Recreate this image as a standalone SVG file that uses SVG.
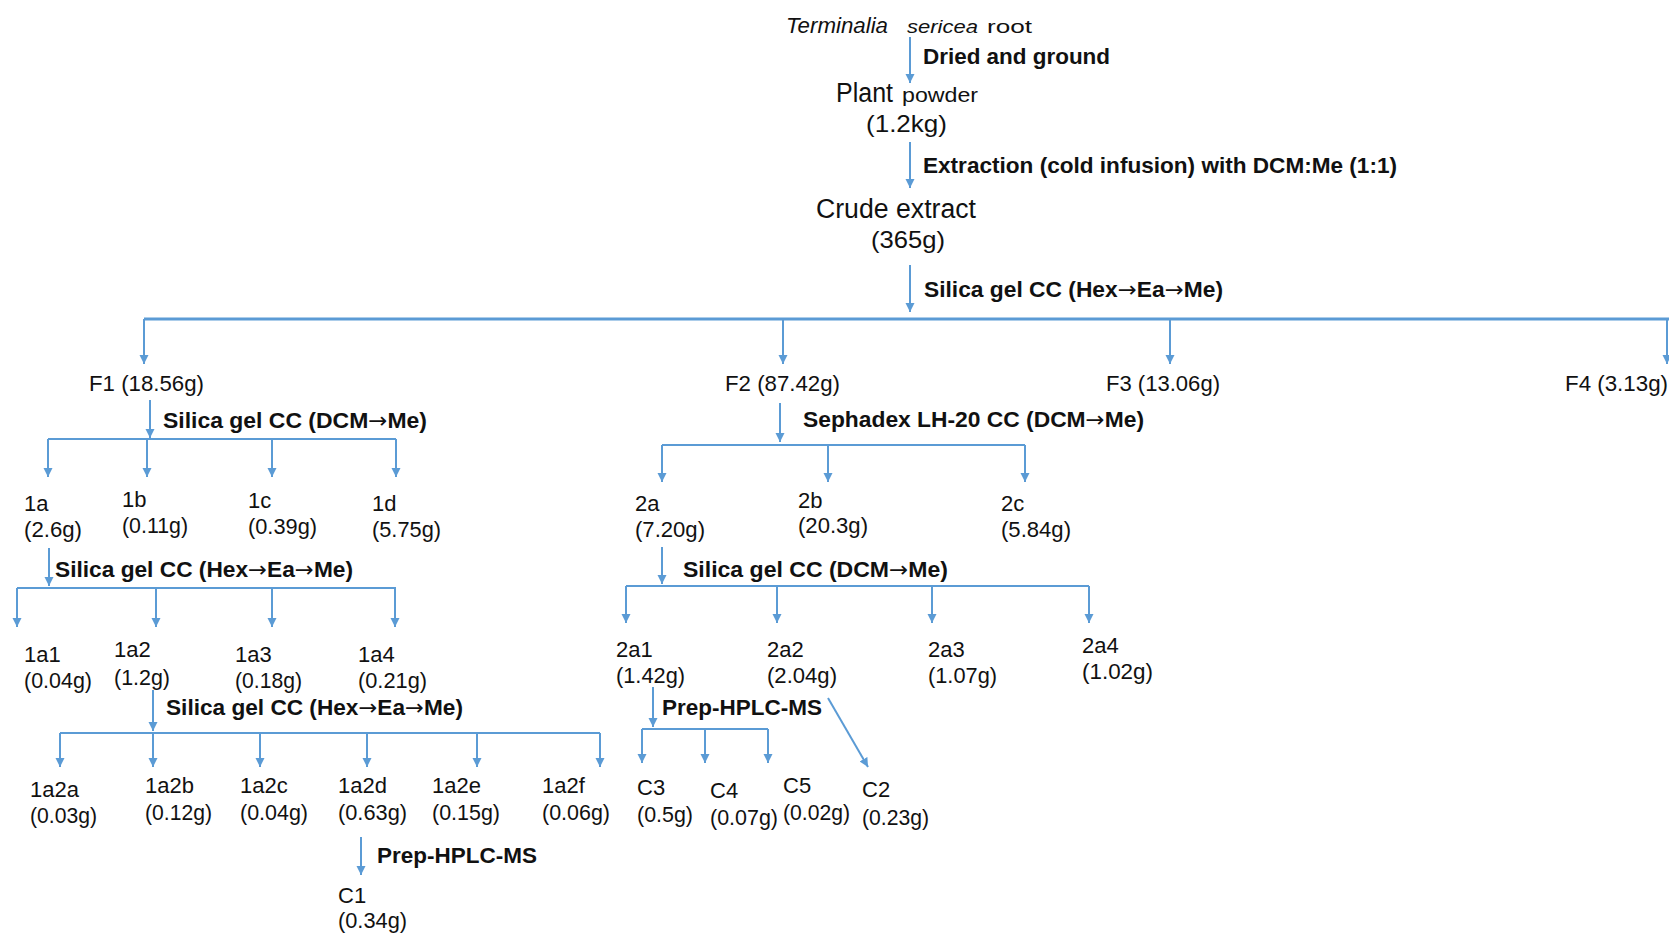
<svg xmlns="http://www.w3.org/2000/svg" width="1669" height="935" viewBox="0 0 1669 935">
<defs>
<marker id="ah" markerUnits="userSpaceOnUse" markerWidth="10" markerHeight="10" refX="9" refY="5" orient="auto">
<path d="M0,0.5 L9,5 L0,9.5 z" fill="#5B9BD5"/>
</marker>
<style>
text{font-family:"Liberation Sans",Arial,sans-serif;fill:#111;}
.n{font-size:22px;}
.b{font-size:22px;font-weight:bold;}
.big{font-size:27px;}
.w{font-size:24px;}
.ar{font-family:"DejaVu Sans",sans-serif;font-weight:normal;}
.c line,.c path{stroke:#5B9BD5;stroke-width:2;fill:none;}
.c .a{marker-end:url(#ah);}
.c .main{stroke-width:3;}
</style>
</defs>
<rect width="1669" height="935" fill="#fff"/>
<g id="connectors" class="c">
<line class="a" x1="910" y1="37" x2="910" y2="83"/>
<line class="a" x1="910" y1="142" x2="910" y2="188"/>
<line class="a" x1="910" y1="265" x2="910" y2="312"/>
<line class="main" x1="144" y1="319" x2="1669" y2="319"/>
<line class="a" x1="144" y1="319" x2="144" y2="364"/>
<line class="a" x1="783" y1="319" x2="783" y2="364"/>
<line class="a" x1="1170" y1="319" x2="1170" y2="364"/>
<line class="a" x1="1667" y1="319" x2="1667" y2="364"/>
<line class="a" x1="150" y1="400" x2="150" y2="438"/>
<line x1="48" y1="439" x2="396" y2="439"/>
<line class="a" x1="48" y1="439" x2="48" y2="477"/>
<line class="a" x1="147" y1="439" x2="147" y2="477"/>
<line class="a" x1="272" y1="439" x2="272" y2="477"/>
<line class="a" x1="396" y1="439" x2="396" y2="477"/>
<line class="a" x1="49" y1="548" x2="49" y2="586"/>
<line x1="17" y1="588" x2="396" y2="588"/>
<line class="a" x1="17" y1="588" x2="17" y2="627"/>
<line class="a" x1="156" y1="588" x2="156" y2="627"/>
<line class="a" x1="272" y1="588" x2="272" y2="627"/>
<line class="a" x1="395" y1="588" x2="395" y2="627"/>
<line class="a" x1="153" y1="690" x2="153" y2="731"/>
<line x1="60" y1="733" x2="600" y2="733"/>
<line class="a" x1="60" y1="733" x2="60" y2="767"/>
<line class="a" x1="153" y1="733" x2="153" y2="767"/>
<line class="a" x1="260" y1="733" x2="260" y2="767"/>
<line class="a" x1="367" y1="733" x2="367" y2="767"/>
<line class="a" x1="477" y1="733" x2="477" y2="767"/>
<line class="a" x1="600" y1="733" x2="600" y2="767"/>
<line class="a" x1="361" y1="837" x2="361" y2="875"/>
<line class="a" x1="780" y1="403" x2="780" y2="442"/>
<line x1="662" y1="445" x2="1025" y2="445"/>
<line class="a" x1="662" y1="445" x2="662" y2="482"/>
<line class="a" x1="828" y1="445" x2="828" y2="482"/>
<line class="a" x1="1025" y1="445" x2="1025" y2="482"/>
<line class="a" x1="662" y1="547" x2="662" y2="584"/>
<line x1="626" y1="586" x2="1089" y2="586"/>
<line class="a" x1="626" y1="586" x2="626" y2="623"/>
<line class="a" x1="777" y1="586" x2="777" y2="623"/>
<line class="a" x1="932" y1="586" x2="932" y2="623"/>
<line class="a" x1="1089" y1="586" x2="1089" y2="623"/>
<line class="a" x1="653" y1="687" x2="653" y2="727"/>
<line x1="642" y1="729" x2="768" y2="729"/>
<line class="a" x1="642" y1="729" x2="642" y2="763"/>
<line class="a" x1="705" y1="729" x2="705" y2="763"/>
<line class="a" x1="768" y1="729" x2="768" y2="763"/>
<line class="a" x1="828" y1="698" x2="868" y2="767"/>
</g>
<g id="labels">
<text class="b" x="923" y="64" textLength="187" lengthAdjust="spacingAndGlyphs">Dried and ground</text>
<text class="b" x="923" y="173" textLength="474" lengthAdjust="spacingAndGlyphs">Extraction (cold infusion) with DCM:Me (1:1)</text>
<text class="b" x="924" y="297" textLength="299" lengthAdjust="spacingAndGlyphs">Silica gel CC (Hex<tspan class="ar">→</tspan>Ea<tspan class="ar">→</tspan>Me)</text>
<text class="b" x="163" y="428" textLength="264" lengthAdjust="spacingAndGlyphs">Silica gel CC (DCM<tspan class="ar">→</tspan>Me)</text>
<text class="b" x="55" y="577" textLength="298" lengthAdjust="spacingAndGlyphs">Silica gel CC (Hex<tspan class="ar">→</tspan>Ea<tspan class="ar">→</tspan>Me)</text>
<text class="b" x="166" y="715" textLength="297" lengthAdjust="spacingAndGlyphs">Silica gel CC (Hex<tspan class="ar">→</tspan>Ea<tspan class="ar">→</tspan>Me)</text>
<text class="b" x="377" y="863" textLength="160" lengthAdjust="spacingAndGlyphs">Prep-HPLC-MS</text>
<text class="b" x="803" y="427" textLength="341" lengthAdjust="spacingAndGlyphs">Sephadex LH-20 CC (DCM<tspan class="ar">→</tspan>Me)</text>
<text class="b" x="683" y="577" textLength="265" lengthAdjust="spacingAndGlyphs">Silica gel CC (DCM<tspan class="ar">→</tspan>Me)</text>
<text class="b" x="662" y="715" textLength="160" lengthAdjust="spacingAndGlyphs">Prep-HPLC-MS</text>
</g>
<g id="root">
<text x="786" y="33" style="font-size:22px;font-style:italic" textLength="102" lengthAdjust="spacingAndGlyphs">Terminalia</text>
<text x="907" y="33" style="font-size:19px;font-style:italic" textLength="71" lengthAdjust="spacingAndGlyphs">sericea</text>
<text x="987" y="33" style="font-size:19px" textLength="45" lengthAdjust="spacingAndGlyphs">root</text>
</g>
<g id="plant-powder">
<text class="big" x="836" y="102" textLength="57" lengthAdjust="spacingAndGlyphs">Plant</text>
<text x="902" y="102" style="font-size:20px" textLength="76" lengthAdjust="spacingAndGlyphs">powder</text>
<text class="w" x="866" y="132" textLength="81" lengthAdjust="spacingAndGlyphs">(1.2kg)</text>
</g>
<g id="crude-extract">
<text class="big" x="816" y="218" textLength="160" lengthAdjust="spacingAndGlyphs">Crude extract</text>
<text class="w" x="871" y="248" textLength="74" lengthAdjust="spacingAndGlyphs">(365g)</text>
</g>
<g id="F1"><text class="n" x="89" y="391" textLength="115" lengthAdjust="spacingAndGlyphs">F1  (18.56g)</text></g>
<g id="F2"><text class="n" x="725" y="391" textLength="115" lengthAdjust="spacingAndGlyphs">F2  (87.42g)</text></g>
<g id="F3"><text class="n" x="1106" y="391" textLength="114" lengthAdjust="spacingAndGlyphs">F3 (13.06g)</text></g>
<g id="F4"><text class="n" x="1565" y="391" textLength="103" lengthAdjust="spacingAndGlyphs">F4 (3.13g)</text></g>
<g id="n1a"><text class="n" x="24" y="511">1a</text><text class="n" x="24" y="537" textLength="58" lengthAdjust="spacingAndGlyphs">(2.6g)</text></g>
<g id="n1b"><text class="n" x="122" y="507">1b</text><text class="n" x="122" y="533" textLength="66" lengthAdjust="spacingAndGlyphs">(0.11g)</text></g>
<g id="n1c"><text class="n" x="248" y="508">1c</text><text class="n" x="248" y="534" textLength="69" lengthAdjust="spacingAndGlyphs">(0.39g)</text></g>
<g id="n1d"><text class="n" x="372" y="511">1d</text><text class="n" x="372" y="537" textLength="69" lengthAdjust="spacingAndGlyphs">(5.75g)</text></g>
<g id="n1a1"><text class="n" x="24" y="662">1a1</text><text class="n" x="24" y="688" textLength="68" lengthAdjust="spacingAndGlyphs">(0.04g)</text></g>
<g id="n1a2"><text class="n" x="114" y="657">1a2</text><text class="n" x="114" y="685" textLength="56" lengthAdjust="spacingAndGlyphs">(1.2g)</text></g>
<g id="n1a3"><text class="n" x="235" y="662">1a3</text><text class="n" x="235" y="688" textLength="67" lengthAdjust="spacingAndGlyphs">(0.18g)</text></g>
<g id="n1a4"><text class="n" x="358" y="662">1a4</text><text class="n" x="358" y="688" textLength="69" lengthAdjust="spacingAndGlyphs">(0.21g)</text></g>
<g id="n1a2a"><text class="n" x="30" y="797">1a2a</text><text class="n" x="30" y="823" textLength="67" lengthAdjust="spacingAndGlyphs">(0.03g)</text></g>
<g id="n1a2b"><text class="n" x="145" y="793">1a2b</text><text class="n" x="145" y="820" textLength="67" lengthAdjust="spacingAndGlyphs">(0.12g)</text></g>
<g id="n1a2c"><text class="n" x="240" y="793">1a2c</text><text class="n" x="240" y="820" textLength="68" lengthAdjust="spacingAndGlyphs">(0.04g)</text></g>
<g id="n1a2d"><text class="n" x="338" y="793">1a2d</text><text class="n" x="338" y="820" textLength="69" lengthAdjust="spacingAndGlyphs">(0.63g)</text></g>
<g id="n1a2e"><text class="n" x="432" y="793">1a2e</text><text class="n" x="432" y="820" textLength="68" lengthAdjust="spacingAndGlyphs">(0.15g)</text></g>
<g id="n1a2f"><text class="n" x="542" y="793">1a2f</text><text class="n" x="542" y="820" textLength="68" lengthAdjust="spacingAndGlyphs">(0.06g)</text></g>
<g id="C1"><text class="n" x="338" y="903">C1</text><text class="n" x="338" y="928" textLength="69" lengthAdjust="spacingAndGlyphs">(0.34g)</text></g>
<g id="n2a"><text class="n" x="635" y="511">2a</text><text class="n" x="635" y="537" textLength="70" lengthAdjust="spacingAndGlyphs">(7.20g)</text></g>
<g id="n2b"><text class="n" x="798" y="508">2b</text><text class="n" x="798" y="533" textLength="70" lengthAdjust="spacingAndGlyphs">(20.3g)</text></g>
<g id="n2c"><text class="n" x="1001" y="511">2c</text><text class="n" x="1001" y="537" textLength="70" lengthAdjust="spacingAndGlyphs">(5.84g)</text></g>
<g id="n2a1"><text class="n" x="616" y="657">2a1</text><text class="n" x="616" y="683" textLength="69" lengthAdjust="spacingAndGlyphs">(1.42g)</text></g>
<g id="n2a2"><text class="n" x="767" y="657">2a2</text><text class="n" x="767" y="683" textLength="70" lengthAdjust="spacingAndGlyphs">(2.04g)</text></g>
<g id="n2a3"><text class="n" x="928" y="657">2a3</text><text class="n" x="928" y="683" textLength="69" lengthAdjust="spacingAndGlyphs">(1.07g)</text></g>
<g id="n2a4"><text class="n" x="1082" y="653">2a4</text><text class="n" x="1082" y="679" textLength="71" lengthAdjust="spacingAndGlyphs">(1.02g)</text></g>
<g id="C3"><text class="n" x="637" y="795">C3</text><text class="n" x="637" y="822" textLength="56" lengthAdjust="spacingAndGlyphs">(0.5g)</text></g>
<g id="C4"><text class="n" x="710" y="798">C4</text><text class="n" x="710" y="825" textLength="68" lengthAdjust="spacingAndGlyphs">(0.07g)</text></g>
<g id="C5"><text class="n" x="783" y="793">C5</text><text class="n" x="783" y="820" textLength="67" lengthAdjust="spacingAndGlyphs">(0.02g)</text></g>
<g id="C2"><text class="n" x="862" y="797">C2</text><text class="n" x="862" y="825" textLength="67" lengthAdjust="spacingAndGlyphs">(0.23g)</text></g>
</svg>
